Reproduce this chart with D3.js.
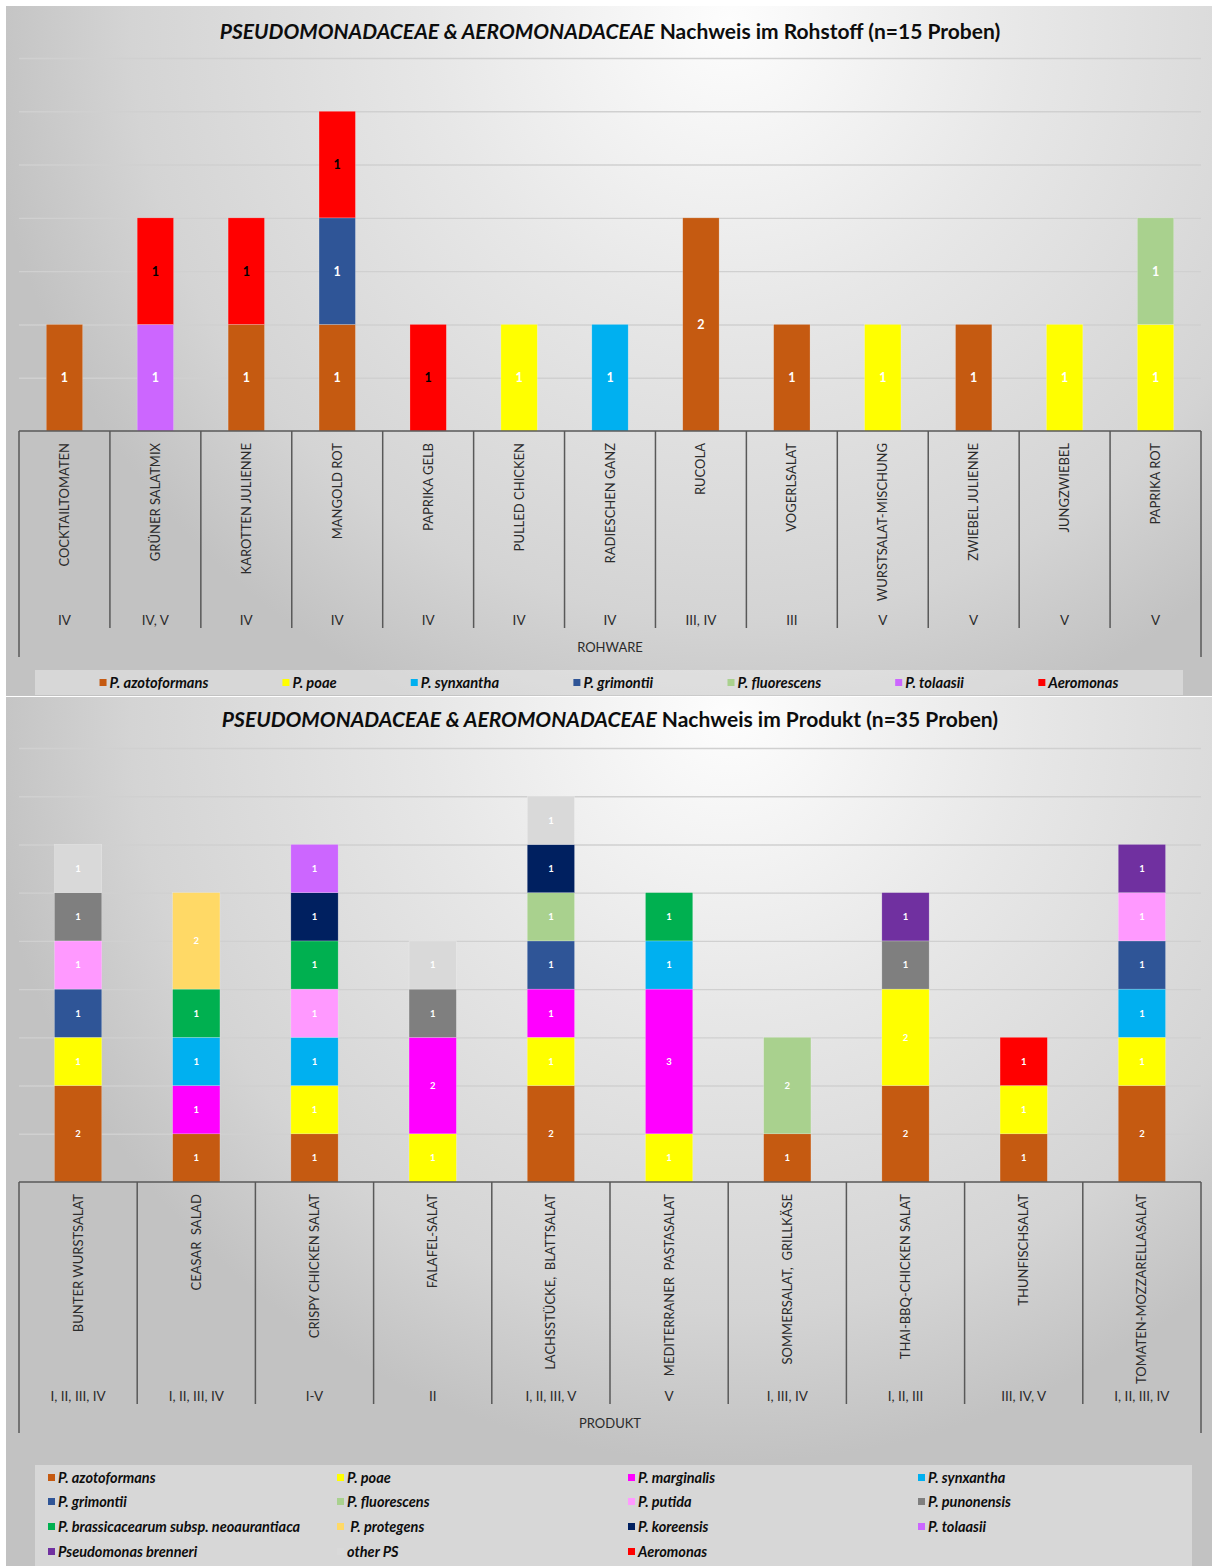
<!DOCTYPE html>
<html>
<head>
<meta charset="utf-8">
<script src="https://cdn.jsdelivr.net/npm/d3@7"></script>
<style>
  body { margin: 0; background: #fff; }
  svg { display: block; font-family: Lato, "Open Sans", sans-serif; }
</style>
</head>
<body>
<svg></svg>
<script>
const width = 1212;
const height = 1566;

// ---- data: Rohstoff ----
const rohCategories = ["COCKTAILTOMATEN", "GRÜNER SALATMIX", "KAROTTEN JULIENNE", "MANGOLD ROT", "PAPRIKA GELB",
  "PULLED CHICKEN", "RADIESCHEN GANZ", "RUCOLA", "VOGERLSALAT", "WURSTSALAT-MISCHUNG", "ZWIEBEL JULIENNE",
  "JUNGZWIEBEL", "PAPRIKA ROT"];
const rohGroups = ["IV", "IV, V", "IV", "IV", "IV", "IV", "IV", "III, IV", "III", "V", "V", "V", "V"];
const rohSeries = ["P. azotoformans", "P. poae", "P. synxantha", "P. grimontii", "P. fluorescens", "P. tolaasii", "Aeromonas"];
const rohAzotoformans = [1, 0, 1, 1, 0, 0, 0, 2, 1, 0, 1, 0, 0];
const rohPoae         = [0, 0, 0, 0, 0, 1, 0, 0, 0, 1, 0, 1, 1];
const rohSynxantha    = [0, 0, 0, 0, 0, 0, 1, 0, 0, 0, 0, 0, 0];
const rohGrimontii    = [0, 0, 0, 1, 0, 0, 0, 0, 0, 0, 0, 0, 0];
const rohFluorescens  = [0, 0, 0, 0, 0, 0, 0, 0, 0, 0, 0, 0, 1];
const rohTolaasii     = [0, 1, 0, 0, 0, 0, 0, 0, 0, 0, 0, 0, 0];
const rohAeromonas    = [0, 1, 1, 1, 1, 0, 0, 0, 0, 0, 0, 0, 0];
const rohValues = [rohAzotoformans, rohPoae, rohSynxantha, rohGrimontii, rohFluorescens, rohTolaasii, rohAeromonas];
const rohTicks = [0.5, 1, 1.5, 2, 2.5, 3, 3.5];

// ---- data: Produkt ----
const prodCategories = ["BUNTER WURSTSALAT", "CEASAR  SALAD", "CRISPY CHICKEN SALAT", "FALAFEL-SALAT",
  "LACHSSTÜCKE,  BLATTSALAT", "MEDITERRANER  PASTASALAT", "SOMMERSALAT,  GRILLKÄSE", "THAI-BBQ-CHICKEN SALAT",
  "THUNFISCHSALAT", "TOMATEN-MOZZARELLASALAT"];
const prodGroups = ["I, II, III, IV", "I, II, III, IV", "I-V", "II", "I, II, III, V", "V", "I, III, IV", "I, II, III",
  "III, IV, V", "I, II, III, IV"];
const prodSeries = ["P. azotoformans", "P. poae", "P. marginalis", "P. synxantha", "P. grimontii", "P. fluorescens",
  "P. putida", "P. punonensis", "P. brassicacearum subsp. neoaurantiaca", " P. protegens", "P. koreensis",
  "P. tolaasii", "Pseudomonas brenneri", "other PS", "Aeromonas"];
const prodAzotoformans = [2, 1, 1, 0, 2, 0, 1, 2, 1, 2];
const prodPoae         = [1, 0, 1, 1, 1, 1, 0, 2, 1, 1];
const prodMarginalis   = [0, 1, 0, 2, 1, 3, 0, 0, 0, 0];
const prodSynxantha    = [0, 1, 1, 0, 0, 1, 0, 0, 0, 1];
const prodGrimontii    = [1, 0, 0, 0, 1, 0, 0, 0, 0, 1];
const prodFluorescens  = [0, 0, 0, 0, 1, 0, 2, 0, 0, 0];
const prodPutida       = [1, 0, 1, 0, 0, 0, 0, 0, 0, 1];
const prodPunonensis   = [1, 0, 0, 1, 0, 0, 0, 1, 0, 0];
const prodBrassicacearum = [0, 1, 1, 0, 0, 1, 0, 0, 0, 0];
const prodProtegens    = [0, 2, 0, 0, 0, 0, 0, 0, 0, 0];
const prodKoreensis    = [0, 0, 1, 0, 1, 0, 0, 0, 0, 0];
const prodTolaasii     = [0, 0, 1, 0, 0, 0, 0, 0, 0, 0];
const prodBrenneri     = [0, 0, 0, 0, 0, 0, 0, 1, 0, 1];
const prodOtherPS      = [1, 0, 0, 1, 1, 0, 0, 0, 0, 0];
const prodAeromonas    = [0, 0, 0, 0, 0, 0, 0, 0, 1, 0];
const prodValues = [prodAzotoformans, prodPoae, prodMarginalis, prodSynxantha, prodGrimontii, prodFluorescens,
  prodPutida, prodPunonensis, prodBrassicacearum, prodProtegens, prodKoreensis, prodTolaasii, prodBrenneri,
  prodOtherPS, prodAeromonas];
const prodTicks = [1, 2, 3, 4, 5, 6, 7, 8, 9];

// farben der arten
const colors = {
  "P. azotoformans": "#C55A11",
  "P. poae": "#FFFF00",
  "P. marginalis": "#FF00FF",
  "P. synxantha": "#00B0F0",
  "P. grimontii": "#2F5597",
  "P. fluorescens": "#A9D18E",
  "P. putida": "#FF99FF",
  "P. punonensis": "#7F7F7F",
  "P. brassicacearum subsp. neoaurantiaca": "#00B050",
  " P. protegens": "#FFD966",
  "P. koreensis": "#002060",
  "P. tolaasii": "#CC66FF",
  "Pseudomonas brenneri": "#7030A0",
  "other PS": "#D9D9D9",
  "Aeromonas": "#FF0000"
};

let svg = d3.select("svg")
    .attr("width", width)
    .attr("height", height);

const defs = svg.append("defs");

function addBackground(id, x, y, w, h) {
  const cx = x + w * 0.6, cy = y + h * 0.02;
  const g = defs.append("radialGradient")
      .attr("id", id)
      .attr("gradientUnits", "userSpaceOnUse")
      .attr("cx", cx).attr("cy", cy)
      .attr("r", w * 0.62);
  g.append("stop").attr("offset", "0").attr("stop-color", "#fdfdfd");
  g.append("stop").attr("offset", "0.4").attr("stop-color", "#e7e7e7");
  g.append("stop").attr("offset", "0.8").attr("stop-color", "#d4d4d4");
  g.append("stop").attr("offset", "1").attr("stop-color", "#c2c2c2");
  svg.append("rect")
      .attr("x", x).attr("y", y).attr("width", w).attr("height", h)
      .attr("fill", `url(#${id})`);
}

function gridGradient(id, y0, y1) {
  const g = defs.append("linearGradient")
      .attr("id", id)
      .attr("gradientUnits", "userSpaceOnUse")
      .attr("x1", 0).attr("x2", 0).attr("y1", y0).attr("y2", y1);
  g.append("stop").attr("offset", "0").attr("stop-color", "#d0d0d0");
  g.append("stop").attr("offset", "1").attr("stop-color", "#888888");
}

function drawChart(cfg) {
  const { categories, groups, series, values, ticks, top, base, x0, x1 } = cfg;

  // title
  const title = svg.append("text")
      .attr("x", cfg.titleX)
      .attr("y", cfg.titleY)
      .attr("text-anchor", "middle")
      .style("font-size", "21px")
      .style("font-weight", "bold")
      .attr("fill", "#0d0d0d");
  title.append("tspan").style("font-style", "italic").text("PSEUDOMONADACEAE & AEROMONADACEAE");
  title.append("tspan").text(" " + cfg.titleText);

  // scales
  const scaleX = d3.scaleBand().domain(categories).range([x0, x1]).padding(0);
  const scaleBar = d3.scaleBand().domain(categories).range([x0, x1]).paddingInner(0.6).paddingOuter(0.3);
  const scaleY = d3.scaleLinear().domain([0, d3.max(ticks)]).range([base, top]);

  // gridlines
  gridGradient(cfg.id + "grid", top, base);
  const grid = svg.append("g")
      .attr("transform", `translate(${x0}, 0)`)
      .call(d3.axisLeft(scaleY).tickValues(ticks).tickSize(-(x1 - x0)).tickFormat(""));
  grid.select(".domain").remove();
  grid.selectAll("line")
      .attr("stroke", `url(#${cfg.id}grid)`)
      .attr("stroke-width", 1.4);

  // stacked data
  const rows = categories.map((c, i) => {
    const r = { cat: c };
    series.forEach((s, j) => r[s] = values[j][i]);
    return r;
  });
  const stacked = d3.stack().keys(series)(rows);

  const layers = svg.append("g").selectAll("g")
      .data(stacked)
      .join("g")
      .attr("fill", d => colors[d.key]);

  layers.selectAll("rect")
      .data(d => d.filter(p => p[1] > p[0]).map(p => ({ p, key: d.key })))
      .join("rect")
      .attr("x", d => scaleBar(d.p.data.cat))
      .attr("width", scaleBar.bandwidth())
      .attr("y", d => scaleY(d.p[1]))
      .attr("height", d => scaleY(d.p[0]) - scaleY(d.p[1]))
      .attr("stroke", "#ffffff")
      .attr("stroke-opacity", 0.35)
      .attr("stroke-width", 0.6);

  // labels in bars
  layers.selectAll("text")
      .data(d => d.filter(p => p[1] > p[0]).map(p => ({ p, key: d.key })))
      .join("text")
      .attr("x", d => scaleBar(d.p.data.cat) + scaleBar.bandwidth() / 2)
      .attr("y", d => (scaleY(d.p[0]) + scaleY(d.p[1])) / 2)
      .attr("dy", "0.35em")
      .attr("text-anchor", "middle")
      .style("font-size", cfg.labelSize + "px")
      .style("font-weight", "bold")
      .attr("fill", d => (cfg.darkLabels.includes(d.key) ? "#000000" : "#ffffff"))
      .text(d => d.p[1] - d.p[0]);

  // category table
  const axisColor = "#595959";
  const tab = svg.append("g").attr("stroke", axisColor).attr("stroke-width", 1.5);
  tab.append("line").attr("x1", x0).attr("x2", x1).attr("y1", base).attr("y2", base);
  categories.forEach((c, i) => {
    if (i > 0) {
      tab.append("line")
          .attr("x1", scaleX(c)).attr("x2", scaleX(c))
          .attr("y1", base).attr("y2", cfg.sepBottom);
    }
  });
  tab.append("line").attr("x1", x0).attr("x2", x0).attr("y1", base).attr("y2", cfg.outerBottom);
  tab.append("line").attr("x1", x1).attr("x2", x1).attr("y1", base).attr("y2", cfg.outerBottom);

  svg.append("g").selectAll("text")
      .data(categories)
      .join("text")
      .attr("transform", d => `translate(${scaleX(d) + scaleX.bandwidth() / 2 + 4.5}, ${base + 12}) rotate(-90)`)
      .attr("text-anchor", "end")
      .style("font-size", "13px")
      .style("white-space", "pre")
      .attr("fill", "#2b2b2b")
      .text(d => d);

  svg.append("g").selectAll("text")
      .data(groups)
      .join("text")
      .attr("x", (d, i) => scaleX(categories[i]) + scaleX.bandwidth() / 2)
      .attr("y", cfg.groupY)
      .attr("text-anchor", "middle")
      .style("font-size", "13.5px")
      .attr("fill", "#2b2b2b")
      .text(d => d);

  svg.append("text")
      .attr("x", (x0 + x1) / 2)
      .attr("y", cfg.axisTitleY)
      .attr("text-anchor", "middle")
      .style("font-size", "13px")
      .attr("fill", "#2b2b2b")
      .text(cfg.axisTitle);
}

function drawLegendRow(series, box, y, fontSize, gap) {
  svg.append("rect")
      .attr("x", box[0]).attr("y", box[1]).attr("width", box[2]).attr("height", box[3])
      .attr("fill", "#ffffff").attr("fill-opacity", 0.35);
  const g = svg.append("g");
  const items = g.selectAll("g").data(series).join("g");
  items.append("rect")
      .attr("width", 7).attr("height", 7)
      .attr("y", y - 4)
      .attr("fill", d => colors[d]);
  items.append("text")
      .attr("x", 10)
      .attr("y", y)
      .attr("dy", "0.35em")
      .style("font-size", fontSize + "px")
      .style("font-weight", "bold")
      .style("font-style", "italic")
      .style("white-space", "pre")
      .attr("fill", "#0d0d0d")
      .text(d => d);
  const widths = items.nodes().map(n => n.getBBox().width);
  const total = d3.sum(widths) + gap * (widths.length - 1);
  let x = box[0] + (box[2] - total) / 2;
  items.attr("transform", (d, i) => {
    const t = `translate(${x}, 0)`;
    x += widths[i] + gap;
    return t;
  });
}

function drawLegendGrid(series, box, cols, colX, rowY, fontSize) {
  svg.append("rect")
      .attr("x", box[0]).attr("y", box[1]).attr("width", box[2]).attr("height", box[3])
      .attr("fill", "#ffffff").attr("fill-opacity", 0.35);
  const items = svg.append("g").selectAll("g").data(series).join("g")
      .attr("transform", (d, i) => `translate(${colX[i % cols]}, ${rowY[Math.floor(i / cols)]})`);
  items.append("rect")
      .attr("x", -10).attr("y", -4).attr("width", 7).attr("height", 7)
      .attr("fill", d => colors[d]);
  items.append("text")
      .attr("dy", "0.35em")
      .style("font-size", fontSize + "px")
      .style("font-weight", "bold")
      .style("font-style", "italic")
      .style("white-space", "pre")
      .attr("fill", "#0d0d0d")
      .text(d => d);
}

// ---------- chart 1: Rohstoff ----------
addBackground("bg1", 6, 6, 1206, 690);
drawChart({
  id: "c1",
  categories: rohCategories, groups: rohGroups, series: rohSeries, values: rohValues, ticks: rohTicks,
  top: 58, base: 431, x0: 19, x1: 1201,
  titleX: 610, titleY: 39, titleText: "Nachweis im Rohstoff (n=15 Proben)",
  labelSize: 12.5, darkLabels: ["Aeromonas"],
  sepBottom: 628, outerBottom: 657, groupY: 625, axisTitle: "ROHWARE", axisTitleY: 652
});
drawLegendRow(rohSeries, [35, 670, 1148, 25], 683, 14.7, 74);

// ---------- chart 2: Produkt ----------
addBackground("bg2", 6, 697, 1206, 869);
drawChart({
  id: "c2",
  categories: prodCategories, groups: prodGroups, series: prodSeries, values: prodValues, ticks: prodTicks,
  top: 748, base: 1182, x0: 19, x1: 1201,
  titleX: 610, titleY: 727, titleText: "Nachweis im Produkt (n=35 Proben)",
  labelSize: 9.5, darkLabels: [],
  sepBottom: 1404, outerBottom: 1433, groupY: 1401, axisTitle: "PRODUKT", axisTitleY: 1428
});
drawLegendGrid(prodSeries, [35, 1465, 1157, 101], 4, [58, 347, 638, 928], [1478, 1502, 1527, 1552], 14.5);
</script>
</body>
</html>
